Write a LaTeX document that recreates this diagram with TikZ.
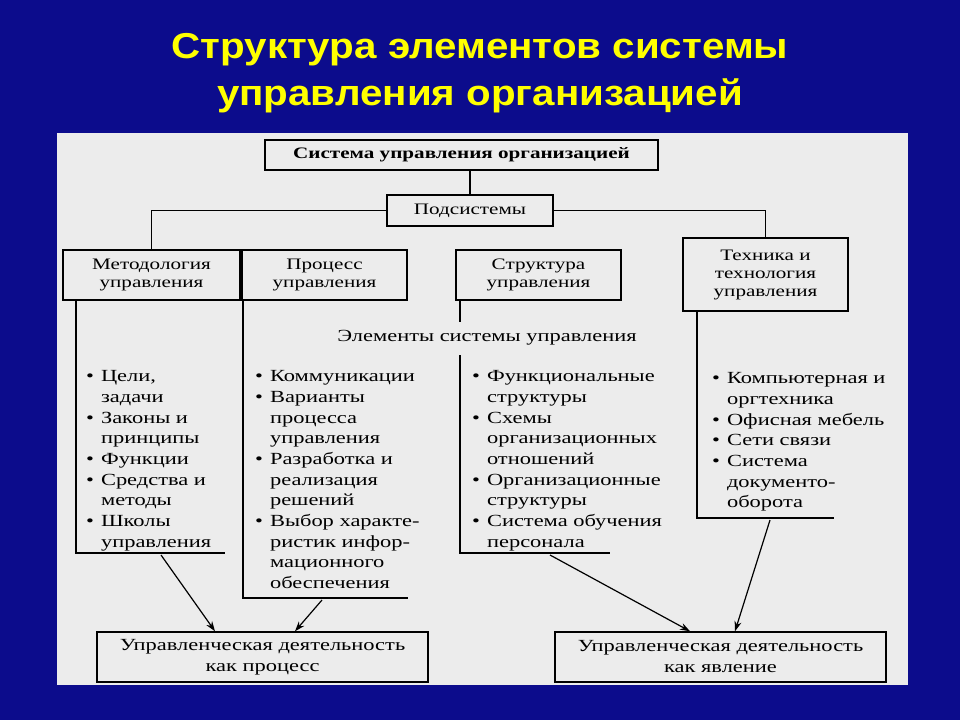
\documentclass[tikz,border=0pt]{standalone}
\usepackage{fontspec}
\setmainfont[FakeStretch=1.32]{Liberation Serif}
\newfontfamily\titlefont[FakeStretch=1.12]{Liberation Sans}
\usetikzlibrary{arrows.meta}
\definecolor{bgblue}{RGB}{12,12,140}
\definecolor{panel}{RGB}{236,236,236}
\definecolor{ttl}{RGB}{255,255,0}
\tikzset{
  bx/.style={draw,line width=1.5pt,fill=panel,inner sep=0pt,align=center,font=\fontsize{16}{18}\selectfont},
  ln/.style={draw,line width=1.5pt},
  arr/.style={draw,line width=1.2pt,-{Stealth[length=10pt,width=7pt]}},
  lst/.style={anchor=north west,inner sep=0pt,font=\fontsize{17}{20.7}\selectfont}
}
\newcommand{\bl}{\textbullet}
\begin{document}
\begin{tikzpicture}[x=1pt,y=-1pt]
\useasboundingbox (0,0) rectangle (960,720);
\fill[bgblue] (0,0) rectangle (960,720);
\fill[panel] (57,133) rectangle (908,685);
\node[text=ttl,font=\titlefont\bfseries\fontsize{36}{47}\selectfont,align=center] (title) at (480,73) {Структура элементов системы\\управления организацией};

\node[bx,minimum width=393,minimum height=30,font=\bfseries\fontsize{16}{18}\selectfont] (top) at (461.5,155) {Система управления организацией};
\node[bx,minimum width=166,minimum height=31] (sub) at (470,210.5) {Подсистемы};
\node[bx,minimum width=177,minimum height=50] (met) at (151.5,275) {Методология\\управления};
\node[bx,minimum width=165,minimum height=50] (proc) at (324.5,275) {Процесс\\управления};
\node[bx,minimum width=165,minimum height=50] (str) at (538.5,275) {Структура\\управления};
\node[bx,minimum width=165,minimum height=73] (tech) at (765.5,274.5) {Техника и\\технология\\управления};
\node[font=\fontsize{17}{18}\selectfont,inner sep=1pt] (elem) at (487,338) {Элементы системы управления};
\node[bx,minimum width=331,minimum height=50,font=\fontsize{17}{21}\selectfont] (resA) at (262.5,657) {Управленческая деятельность\\как процесс};
\node[bx,minimum width=331,minimum height=50,font=\fontsize{17}{21}\selectfont] (resB) at (720.5,657) {Управленческая деятельность\\как явление};

\draw[ln] (top.south -| sub.north) -- (sub.north);
\draw[ln] (sub.west) -| (met.north);
\draw[ln] (sub.east) -| (tech.north);

\coordinate (m1) at (76,300); \coordinate (m2) at (76,553); \coordinate (m3) at (225,553);
\coordinate (p1) at (243,300); \coordinate (p2) at (243,598); \coordinate (p3) at (408,598);
\coordinate (s1) at (460,300); \coordinate (s0) at (460,322); \coordinate (s4) at (460,355); \coordinate (s2) at (460,553); \coordinate (s3) at (610,553);
\coordinate (t1) at (697,311); \coordinate (t2) at (697,518); \coordinate (t3) at (834,518);
\draw[ln] (m1) -- (m2) -- (m3);
\draw[ln] (p1) -- (p2) -- (p3);
\draw[ln] (s1) -- (s0);
\draw[ln] (s4) -- (s2) -- (s3);
\draw[ln] (t1) -- (t2) -- (t3);

\node[lst] (c1) at (86,367) {\begin{tabular}{@{}l@{\hspace{7pt}}l@{}}
\bl & Цели,\\ & задачи\\ \bl & Законы и\\ & принципы\\ \bl & Функции\\ \bl & Средства и\\ & методы\\ \bl & Школы\\ & управления\end{tabular}};
\node[lst] (c2) at (255,367) {\begin{tabular}{@{}l@{\hspace{7pt}}l@{}}
\bl & Коммуникации\\ \bl & Варианты\\ & процесса\\ & управления\\ \bl & Разработка и\\ & реализация\\ & решений\\ \bl & Выбор характе-\\ & ристик инфор-\\ & мационного\\ & обеспечения\end{tabular}};
\node[lst] (c3) at (472,367) {\begin{tabular}{@{}l@{\hspace{7pt}}l@{}}
\bl & Функциональные\\ & структуры\\ \bl & Схемы\\ & организационных\\ & отношений\\ \bl & Организационные\\ & структуры\\ \bl & Система обучения\\ & персонала\end{tabular}};
\node[lst] (c4) at (712,369) {\begin{tabular}{@{}l@{\hspace{7pt}}l@{}}
\bl & Компьютерная и\\ & оргтехника\\ \bl & Офисная мебель\\ \bl & Сети связи\\ \bl & Система\\ & документо-\\ & оборота\end{tabular}};

\coordinate (a1) at (161,555); \coordinate (a2) at (322,600);
\coordinate (a3) at (550,555); \coordinate (a4) at (770,520);
\draw[arr] (a1) -- (resA.north -| 215,0);
\draw[arr] (a2) -- (resA.north -| 295,0);
\draw[arr] (a3) -- (resB.north -| 690,0);
\draw[arr] (a4) -- (resB.north -| 735,0);
\end{tikzpicture}
\end{document}
